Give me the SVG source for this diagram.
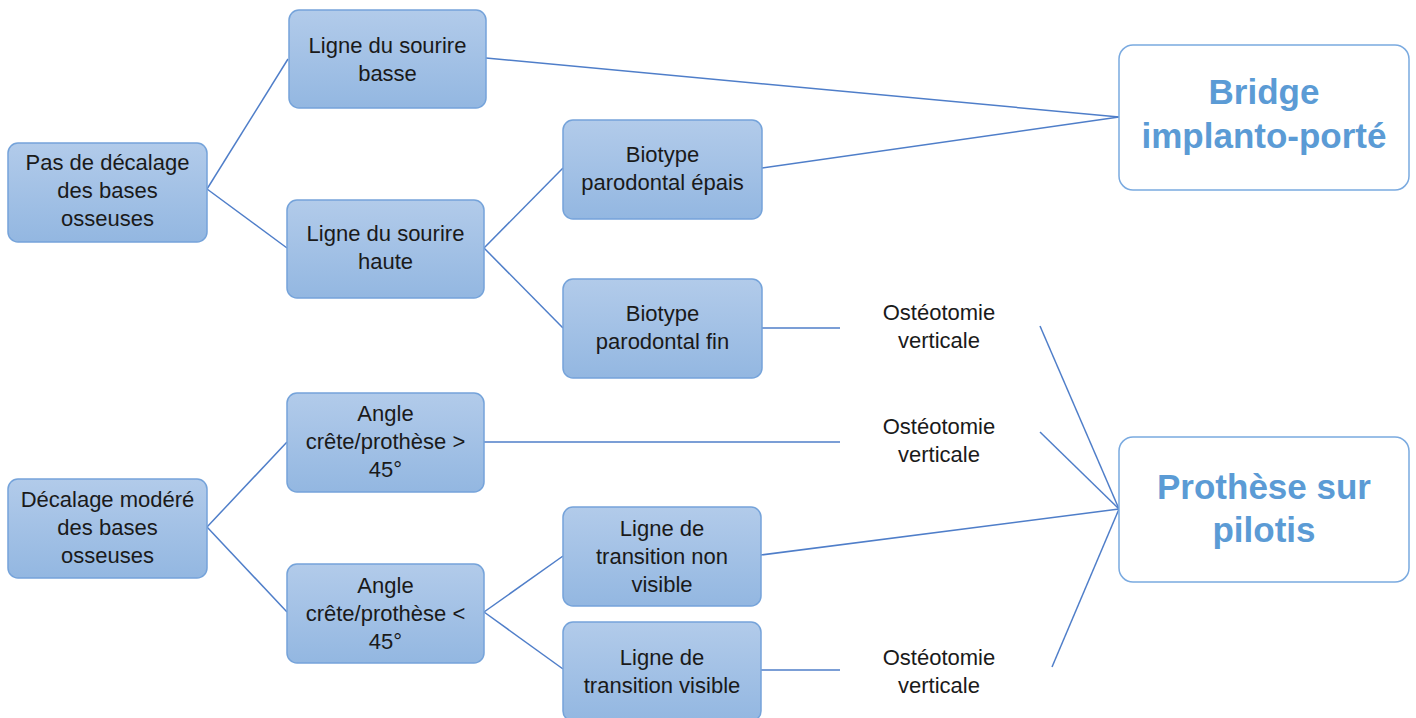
<svg xmlns="http://www.w3.org/2000/svg" width="1416" height="718" viewBox="0 0 1416 718">
<defs>
<linearGradient id="g" x1="0" y1="0" x2="0" y2="1">
<stop offset="0" stop-color="#b2cbea"/>
<stop offset="1" stop-color="#93b7e1"/>
</linearGradient>
<style>
.box{fill:url(#g);stroke:#75a3da;stroke-width:1.5}
.res{fill:#fff;stroke:#7aaae0;stroke-width:1.5}
.t{font-family:"Liberation Sans",Arial,sans-serif;font-size:22px;fill:#1a1a1a;text-anchor:middle}
.b{font-family:"Liberation Sans",Arial,sans-serif;font-size:35px;font-weight:bold;fill:#5b9bd5;text-anchor:middle}
.c{stroke:#4f7ec9;stroke-width:1.5;fill:none}
</style>
</defs>
<rect width="1416" height="718" fill="#fff"/>
<g id="connectors">
<line class="c" x1="207" y1="189" x2="288" y2="59"/>
<line class="c" x1="207" y1="189" x2="287" y2="248"/>
<line class="c" x1="486" y1="58" x2="1119" y2="117"/>
<line class="c" x1="762" y1="168" x2="1119" y2="117"/>
<line class="c" x1="484" y1="248" x2="563" y2="168"/>
<line class="c" x1="484" y1="248" x2="563" y2="328"/>
<line class="c" x1="762" y1="328" x2="840" y2="328"/>
<line class="c" x1="207" y1="527" x2="287" y2="442"/>
<line class="c" x1="207" y1="527" x2="287" y2="612"/>
<line class="c" x1="484" y1="442" x2="840" y2="442"/>
<line class="c" x1="484" y1="612" x2="563" y2="556"/>
<line class="c" x1="484" y1="612" x2="563" y2="669"/>
<line class="c" x1="761" y1="555" x2="1119" y2="509"/>
<line class="c" x1="761" y1="670" x2="840" y2="670"/>
<line class="c" x1="1040" y1="326" x2="1119" y2="509"/>
<line class="c" x1="1040" y1="432" x2="1119" y2="509"/>
<line class="c" x1="1052" y1="667" x2="1119" y2="509"/>
</g>
<g id="n-pas-decalage">
<rect class="box" x="8" y="143" width="199" height="99" rx="10"/>
<text class="t" x="107.5" y="170">Pas de décalage</text>
<text class="t" x="107.5" y="198">des bases</text>
<text class="t" x="107.5" y="226">osseuses</text>
</g>
<g id="n-sourire-basse">
<rect class="box" x="289" y="10" width="197" height="98" rx="10"/>
<text class="t" x="387.5" y="53">Ligne du sourire</text>
<text class="t" x="387.5" y="81">basse</text>
</g>
<g id="n-sourire-haute">
<rect class="box" x="287" y="200" width="197" height="98" rx="10"/>
<text class="t" x="385.5" y="241">Ligne du sourire</text>
<text class="t" x="385.5" y="269">haute</text>
</g>
<g id="n-biotype-epais">
<rect class="box" x="563" y="120" width="199" height="99" rx="10"/>
<text class="t" x="662.5" y="162">Biotype</text>
<text class="t" x="662.5" y="190">parodontal épais</text>
</g>
<g id="n-biotype-fin">
<rect class="box" x="563" y="279" width="199" height="99" rx="10"/>
<text class="t" x="662.5" y="321">Biotype</text>
<text class="t" x="662.5" y="349">parodontal fin</text>
</g>
<g id="n-decalage-modere">
<rect class="box" x="8" y="479" width="199" height="99" rx="10"/>
<text class="t" x="107.5" y="507">Décalage modéré</text>
<text class="t" x="107.5" y="535">des bases</text>
<text class="t" x="107.5" y="563">osseuses</text>
</g>
<g id="n-angle-sup">
<rect class="box" x="287" y="393" width="197" height="99" rx="10"/>
<text class="t" x="385.5" y="421">Angle</text>
<text class="t" x="385.5" y="449">crête/prothèse &gt;</text>
<text class="t" x="385.5" y="477">45°</text>
</g>
<g id="n-angle-inf">
<rect class="box" x="287" y="564" width="197" height="99" rx="10"/>
<text class="t" x="385.5" y="593">Angle</text>
<text class="t" x="385.5" y="621">crête/prothèse &lt;</text>
<text class="t" x="385.5" y="649">45°</text>
</g>
<g id="n-transition-non-visible">
<rect class="box" x="563" y="507" width="198" height="99" rx="10"/>
<text class="t" x="662" y="536">Ligne de</text>
<text class="t" x="662" y="564">transition non</text>
<text class="t" x="662" y="592">visible</text>
</g>
<g id="n-transition-visible">
<rect class="box" x="563" y="622" width="198" height="99" rx="10"/>
<text class="t" x="662" y="665">Ligne de</text>
<text class="t" x="662" y="693">transition visible</text>
</g>
<g id="n-osteo-1">
<text class="t" x="939" y="320">Ostéotomie</text>
<text class="t" x="939" y="348">verticale</text>
</g>
<g id="n-osteo-2">
<text class="t" x="939" y="434">Ostéotomie</text>
<text class="t" x="939" y="462">verticale</text>
</g>
<g id="n-osteo-3">
<text class="t" x="939" y="665">Ostéotomie</text>
<text class="t" x="939" y="693">verticale</text>
</g>
<g id="n-bridge">
<rect class="res" x="1119" y="45" width="290" height="145" rx="14"/>
<text class="b" x="1264" y="104">Bridge</text>
<text class="b" x="1264" y="148">implanto-porté</text>
</g>
<g id="n-pilotis">
<rect class="res" x="1119" y="437" width="290" height="145" rx="14"/>
<text class="b" x="1264" y="499">Prothèse sur</text>
<text class="b" x="1264" y="542">pilotis</text>
</g>
</svg>
